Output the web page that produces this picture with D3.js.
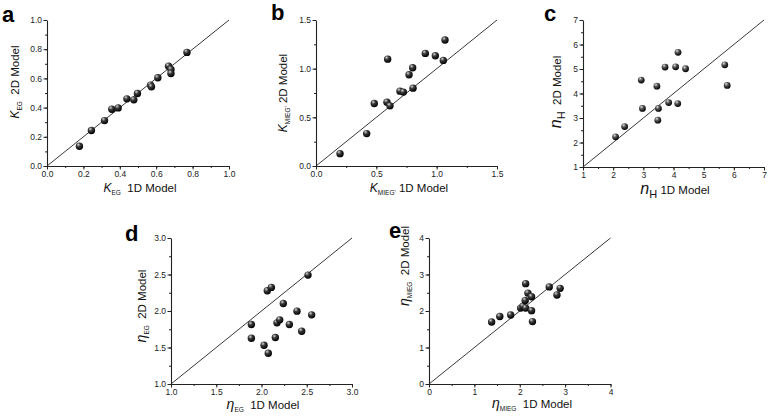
<!DOCTYPE html>
<html><head><meta charset="utf-8">
<script src="https://cdn.jsdelivr.net/npm/d3@7/dist/d3.min.js"></script>
<style>
body{margin:0;background:#fff}
text{font-family:"Liberation Sans",Arial,Helvetica,sans-serif;white-space:pre}
</style>
</head><body>
<svg id="chart" width="769" height="417"></svg>
<script>
// ---- data ----
const aX=[0.178,0.244,0.316,0.356,0.391,0.439,0.477,0.497,0.569,0.574,0.609,0.668,0.681,0.681,0.769];
const aY=[0.135,0.243,0.311,0.389,0.398,0.460,0.453,0.497,0.554,0.542,0.604,0.684,0.661,0.634,0.778];
const bX=[0.199,0.420,0.483,0.588,0.613,0.594,0.696,0.724,0.804,0.771,0.801,0.906,0.989,1.055,1.069];
const bY=[0.127,0.333,0.642,0.656,0.618,1.098,0.769,0.759,0.800,0.937,1.009,1.157,1.133,1.085,1.294];
const cX=[2.08,2.38,2.97,2.93,3.45,3.50,3.48,3.72,3.84,4.07,4.15,4.14,4.40,5.70,5.78];
const cY=[2.23,2.65,3.39,4.55,4.30,3.39,2.91,5.08,3.63,5.09,5.68,3.59,5.01,5.17,4.33];
const dX=[1.888,1.888,2.028,2.075,2.064,2.109,2.153,2.171,2.201,2.241,2.308,2.392,2.444,2.514,2.554];
const dY=[1.815,1.627,1.531,1.421,2.277,2.323,1.636,1.838,1.879,2.103,1.815,1.998,1.723,2.492,1.947];
const eX=[1.38,1.56,1.80,2.02,2.07,2.13,2.12,2.13,2.18,2.26,2.26,2.28,2.65,2.82,2.89];
const eY=[1.70,1.85,1.89,2.08,2.13,2.08,2.29,2.75,2.49,2.39,2.01,1.71,2.66,2.44,2.62];

const aTicks=[0,0.2,0.4,0.6,0.8,1.0];
const bTicks=[0,0.5,1.0,1.5];
const cTicks=[1,2,3,4,5,6,7];
const dTicks=[1.0,1.5,2.0,2.5,3.0];
const eTicks=[0,1,2,3,4];
const panelLetters=["a","b","c","d","e"];

// ---- layout ----
const svg=d3.select("#chart");
const defs=svg.append("defs");
function grad(id,hi,mid){
  const g=defs.append("radialGradient").attr("id",id).attr("cx","38%").attr("cy","32%").attr("r","68%").attr("fx","35%").attr("fy","28%");
  g.append("stop").attr("offset","0%").attr("stop-color",hi);
  g.append("stop").attr("offset","40%").attr("stop-color",mid);
  g.append("stop").attr("offset","100%").attr("stop-color","#000");
}
grad("ball","#d8d8d8","#3a3a3a");
grad("ballC","#e4e4e4","#555");

const panels=[
 {L:panelLetters[0],xs:aX,ys:aY,ticks:aTicks,minor:0.1,fmt:".1f",px:[47,229],py:[166,20],letter:[2,22],
  xl:[[{t:"K",it:1,fs:12},{t:"EG",fs:6.5,sub:1},{t:"  1D Model",fs:11.5}],140,192],
  yl:[[{t:"K",it:1,fs:12},{t:"EG",fs:6.5,sub:1},{t:"  2D Model",fs:11.5}],19,82],r:3.7,g:"ball"},
 {L:panelLetters[1],xs:bX,ys:bY,ticks:bTicks,minor:0.25,fmt:".1f",px:[316,497],py:[166,20],letter:[271,20],
  xl:[[{t:"K",it:1,fs:12},{t:"MIEG'",fs:6.5,sub:1},{t:" 1D Model",fs:11.5}],409,192],
  yl:[[{t:"K",it:1,fs:12},{t:"MIEG'",fs:6.5,sub:1},{t:" 2D Model",fs:11.5}],287,93],r:3.7,g:"ball"},
 {L:panelLetters[2],xs:cX,ys:cY,ticks:cTicks,minor:0.5,fmt:"d",px:[583,764],py:[167,20],letter:[544,21],
  xl:[[{t:"n",it:1,fs:16},{t:"H",fs:11,sub:1},{t:" 1D Model",fs:11.5}],675,194],
  yl:[[{t:"n",it:1,fs:16},{t:"H",fs:11,sub:1},{t:"  2D Model",fs:11.5}],561,92],r:3.4,g:"ballC"},
 {L:panelLetters[3],xs:dX,ys:dY,ticks:dTicks,minor:0.25,fmt:".1f",px:[171,352],py:[384,238],letter:[125,241],
  xl:[[{t:"η",it:1,fs:14},{t:"EG",fs:6.5,sub:1},{t:"  1D Model",fs:11.5}],263,409],
  yl:[[{t:"η",it:1,fs:14},{t:"EG",fs:6.5,sub:1},{t:"  2D Model",fs:11.5}],146,306],r:3.7,g:"ball"},
 {L:panelLetters[4],xs:eX,ys:eY,ticks:eTicks,minor:0.5,fmt:"d",px:[429,610.5],py:[384,238],letter:[389,238],
  xl:[[{t:"η",it:1,fs:14},{t:"MIEG",fs:6.5,sub:1},{t:"  1D Model",fs:11.5}],532,408],
  yl:[[{t:"η",it:1,fs:14},{t:"MIEG",fs:6.5,sub:1},{t:"  2D Model",fs:11.5}],409,266],r:3.7,g:"ball"}
];

function richText(sel,parts){
  let shift=0;
  parts.forEach(p=>{
    const ts=sel.append("tspan").text(p.t).attr("font-size",p.fs);
    if(p.it) ts.attr("font-style","italic");
    const target=p.sub?(p.fs>9?4:3):0;
    if(target!==shift){ts.attr("dy",target-shift);shift=target;}
  });
}

panels.forEach(P=>{
  const dom=[P.ticks[0],P.ticks[P.ticks.length-1]];
  const x=d3.scaleLinear().domain(dom).range(P.px);
  const y=d3.scaleLinear().domain(dom).range(P.py);
  const minorVals=d3.range(dom[0],dom[1]+P.minor/2,P.minor);
  const g=svg.append("g");
  const fmt=d3.format(P.fmt);
  // minor ticks
  g.append("g").attr("transform",`translate(0,${P.py[0]})`)
   .call(d3.axisBottom(x).tickValues(minorVals).tickSize(2).tickFormat(""))
   .call(s=>s.select(".domain").remove());
  g.append("g").attr("transform",`translate(${P.px[0]},0)`)
   .call(d3.axisLeft(y).tickValues(minorVals).tickSize(2).tickFormat(""))
   .call(s=>s.select(".domain").remove());
  // major
  const xa=g.append("g").attr("transform",`translate(0,${P.py[0]})`)
   .call(d3.axisBottom(x).tickValues(P.ticks).tickSize(3.5).tickSizeOuter(0).tickPadding(1.5).tickFormat(fmt));
  const ya=g.append("g").attr("transform",`translate(${P.px[0]},0)`)
   .call(d3.axisLeft(y).tickValues(P.ticks).tickSize(3.5).tickSizeOuter(0).tickPadding(1.5).tickFormat(fmt));
  [xa,ya].forEach(a=>{
    a.selectAll("text").attr("font-size",8.5).attr("fill","#222").attr("font-family",null);
    a.selectAll("line").attr("stroke","#222");
    a.select(".domain").attr("stroke","#222").attr("stroke-width",1.1);
  });
  g.selectAll("g.tick line").attr("stroke","#222");
  // diagonal
  g.append("line").attr("x1",x(dom[0])).attr("y1",y(dom[0])).attr("x2",x(dom[1])).attr("y2",y(dom[1]))
   .attr("stroke","#222").attr("stroke-width",0.9);
  // points
  g.selectAll("circle.pt").data(P.xs.map((v,i)=>[v,P.ys[i]])).join("circle")
   .attr("class","pt").attr("cx",d=>x(d[0])).attr("cy",d=>y(d[1])).attr("r",P.r)
   .attr("fill",`url(#${P.g})`);
  // letter
  svg.append("text").attr("x",P.letter[0]).attr("y",P.letter[1]).attr("font-size",22)
   .attr("font-weight","bold").attr("fill","#000").text(P.L);
  // x label
  const xt=svg.append("text").attr("x",P.xl[1]).attr("y",P.xl[2]).attr("text-anchor","middle").attr("fill","#111");
  richText(xt,P.xl[0]);
  // y label
  const yt=svg.append("text").attr("transform",`translate(${P.yl[1]},${P.yl[2]}) rotate(-90)`)
   .attr("text-anchor","middle").attr("fill","#111");
  richText(yt,P.yl[0]);
});
</script>
</body></html>
